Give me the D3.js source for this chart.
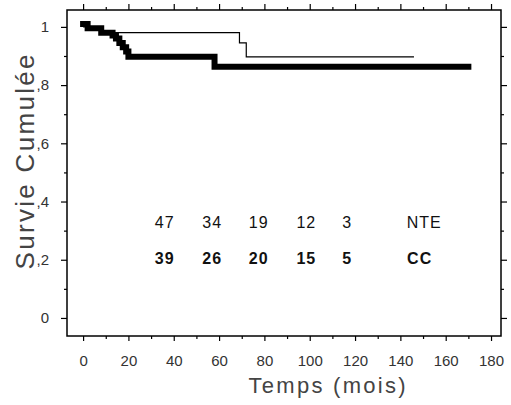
<!DOCTYPE html>
<html>
<head>
<meta charset="utf-8">
<script src="https://cdn.jsdelivr.net/npm/d3@7"></script>
<style>
    body { margin: 0; background: #fff; }
    svg { display: block; }
    .tick text { font-family: "Liberation Sans", Arial, sans-serif; fill: #333; }
</style>
</head>
<body>
<div id="chart"><svg width="511" height="405"></svg></div>
<script>
// survival curves (time in months, cumulative survival)
var nteTimes = [0, 2, 8, 69, 72, 146];
var nteSurv = [1.0, 0.99, 0.98, 0.945, 0.897, 0.897];

var ccTimes = [0, 2, 8, 13, 14.5, 16, 17.5, 19, 20, 58, 170];
var ccSurv = [1.01, 0.995, 0.98, 0.97, 0.96, 0.945, 0.93, 0.915, 0.897, 0.863, 0.863];

// numbers at risk
var riskTimes = [36, 57, 77.5, 98.5, 116.5];
var nteRisk = [47, 34, 19, 12, 3];
var ccRisk = [39, 26, 20, 15, 5];
var groupLabels = ["NTE", "CC"];
var groupLabelTimes = [150.5, 148.5];

var xTicks = [0, 20, 40, 60, 80, 100, 120, 140, 160, 180];
var xMinor = [10, 30, 50, 70, 90, 110, 130, 150, 170];
var yTicks = [0, 0.2, 0.4, 0.6, 0.8, 1];
var yMinor = [0.1, 0.3, 0.5, 0.7, 0.9];

var svg = d3.select("#chart").select("svg");

var x = d3.scaleLinear()
    .domain([-7.1, 184.4])
    .range([67, 501]);

var y = d3.scaleLinear()
    .domain([-0.062, 1.058])
    .range([336, 10]);

var yFormat = function (d) {
    if (d === 0 || d === 1) {
        return String(d);
    }
    return "," + Math.round(d * 10);
};

// minor ticks first
svg.append("g")
    .attr("transform", "translate(0,336)")
    .call(d3.axisBottom(x).tickValues(xMinor).tickSize(3).tickFormat(""));
svg.append("g")
    .attr("transform", "translate(0,10)")
    .call(d3.axisTop(x).tickValues(xMinor).tickSize(3).tickFormat(""));
svg.append("g")
    .attr("transform", "translate(67,0)")
    .call(d3.axisLeft(y).tickValues(yMinor).tickSize(3).tickFormat(""));
svg.append("g")
    .attr("transform", "translate(501,0)")
    .call(d3.axisRight(y).tickValues(yMinor).tickSize(3).tickFormat(""));

// major ticks
svg.append("g")
    .attr("transform", "translate(0,336)")
    .call(d3.axisBottom(x).tickValues(xTicks).tickSize(5).tickPadding(14).tickFormat(d3.format("d")))
    .style("font-size", "15px");
svg.append("g")
    .attr("transform", "translate(0,10)")
    .call(d3.axisTop(x).tickValues(xTicks).tickSize(6).tickFormat(""));
svg.append("g")
    .attr("transform", "translate(67,0)")
    .call(d3.axisLeft(y).tickValues(yTicks).tickSize(6).tickPadding(12).tickFormat(yFormat))
    .style("font-size", "15px");
svg.append("g")
    .attr("transform", "translate(501,0)")
    .call(d3.axisRight(y).tickValues(yTicks).tickSize(6).tickFormat(""));

svg.selectAll(".domain").remove();
svg.selectAll(".tick line").attr("stroke", "#000").attr("stroke-width", 1.2);

// frame
svg.append("rect")
    .attr("x", 67)
    .attr("y", 10)
    .attr("width", 434)
    .attr("height", 326)
    .attr("fill", "none")
    .attr("stroke", "#000")
    .attr("stroke-width", 1.5);

// curves
var line = d3.line()
    .x(function (d) { return x(d[0]); })
    .y(function (d) { return y(d[1]); })
    .curve(d3.curveStepAfter);

svg.append("path")
    .datum(d3.zip(nteTimes, nteSurv))
    .attr("d", line)
    .attr("fill", "none")
    .attr("stroke", "#000")
    .attr("stroke-width", 1.2);

svg.append("path")
    .datum(d3.zip(ccTimes, ccSurv))
    .attr("d", line)
    .attr("fill", "none")
    .attr("stroke", "#000")
    .attr("stroke-width", 6)
    .attr("stroke-linecap", "square");

// numbers at risk
var rows = [
    {values: nteRisk, label: groupLabels[0], labelT: groupLabelTimes[0], yv: 0.309, weight: "normal"},
    {values: ccRisk, label: groupLabels[1], labelT: groupLabelTimes[1], yv: 0.186, weight: "bold"}
];

rows.forEach(function (r) {
    var g = svg.append("g")
        .style("font-family", "'Liberation Sans', Arial, sans-serif")
        .style("font-size", "16px")
        .style("font-weight", r.weight)
        .style("letter-spacing", "1px")
        .attr("fill", "#111")
        .attr("text-anchor", "middle");

    g.selectAll("text.num")
        .data(r.values)
        .enter().append("text")
        .attr("class", "num")
        .attr("x", function (d, i) { return x(riskTimes[i]); })
        .attr("y", y(r.yv))
        .text(function (d) { return d; });

    g.append("text")
        .attr("x", x(r.labelT))
        .attr("y", y(r.yv))
        .text(r.label);
});

// axis titles
svg.append("text")
    .attr("x", 327)
    .attr("y", 393)
    .attr("text-anchor", "middle")
    .attr("textLength", 157)
    .attr("lengthAdjust", "spacing")
    .style("font-family", "'Liberation Sans', Arial, sans-serif")
    .style("font-size", "22px")
    .attr("fill", "#444")
    .text("Temps (mois)");

svg.append("text")
    .attr("transform", "translate(34,162) rotate(-90)")
    .attr("text-anchor", "middle")
    .attr("textLength", 215)
    .attr("lengthAdjust", "spacing")
    .style("font-family", "'Liberation Sans', Arial, sans-serif")
    .style("font-size", "26px")
    .attr("fill", "#444")
    .text("Survie Cumulée");
</script>
</body>
</html>
